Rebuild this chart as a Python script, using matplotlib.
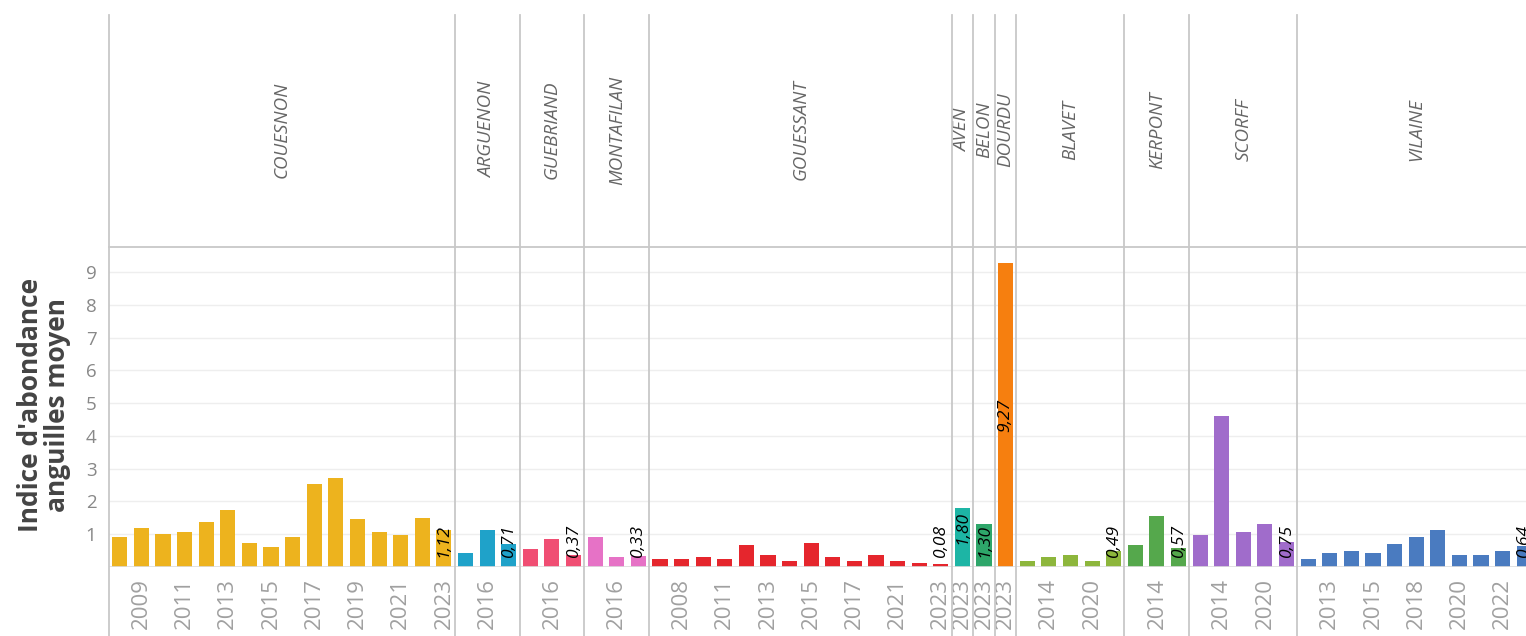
import matplotlib
matplotlib.use("Agg")
import matplotlib.pyplot as plt
from matplotlib.transforms import blended_transform_factory

plt.rcParams["font.family"] = ["Open Sans", "DejaVu Sans"]

# Data: one list per river (facet)
rivers = ["COUESNON", "ARGUENON", "GUEBRIAND", "MONTAFILAN", "GOUESSANT",
          "AVEN", "BELON", "DOURDU", "BLAVET", "KERPONT", "SCORFF", "VILAINE"]

years = {
    "COUESNON": [2008, 2009, 2010, 2011, 2012, 2013, 2014, 2015, 2016, 2017, 2018, 2019, 2020, 2021, 2022, 2023],
    "ARGUENON": [2014, 2016, 2023],
    "GUEBRIAND": [2014, 2016, 2023],
    "MONTAFILAN": [2014, 2016, 2023],
    "GOUESSANT": [2007, 2008, 2010, 2011, 2012, 2013, 2014, 2015, 2016, 2017, 2019, 2021, 2022, 2023],
    "AVEN": [2023],
    "BELON": [2023],
    "DOURDU": [2023],
    "BLAVET": [2012, 2014, 2016, 2020, 2023],
    "KERPONT": [2013, 2014, 2023],
    "SCORFF": [2013, 2014, 2016, 2020, 2023],
    "VILAINE": [2012, 2013, 2014, 2015, 2017, 2018, 2019, 2020, 2021, 2022, 2023],
}

values = {
    "COUESNON": [0.92, 1.20, 1.02, 1.07, 1.37, 1.73, 0.73, 0.61, 0.92, 2.54, 2.73, 1.45, 1.07, 0.97, 1.50, 1.12],
    "ARGUENON": [0.43, 1.14, 0.71],
    "GUEBRIAND": [0.56, 0.85, 0.37],
    "MONTAFILAN": [0.92, 0.31, 0.33],
    "GOUESSANT": [0.25, 0.25, 0.31, 0.25, 0.66, 0.38, 0.18, 0.73, 0.31, 0.18, 0.38, 0.18, 0.13, 0.08],
    "AVEN": [1.80],
    "BELON": [1.30],
    "DOURDU": [9.27],
    "BLAVET": [0.18, 0.31, 0.38, 0.18, 0.49],
    "KERPONT": [0.66, 1.55, 0.57],
    "SCORFF": [0.97, 4.60, 1.07, 1.30, 0.75],
    "VILAINE": [0.25, 0.43, 0.49, 0.43, 0.71, 0.92, 1.14, 0.38, 0.38, 0.49, 0.64],
}

colors = {
    "COUESNON": "#EDB31E", "ARGUENON": "#1FA2C9", "GUEBRIAND": "#F04E73",
    "MONTAFILAN": "#E672C6", "GOUESSANT": "#E5262D", "AVEN": "#1DB5A5",
    "BELON": "#2EA66A", "DOURDU": "#F67F0F", "BLAVET": "#8DB63C",
    "KERPONT": "#55A84C", "SCORFF": "#A06CCB", "VILAINE": "#4A7BC0",
}

W, H = 1526, 636
fig = plt.figure(figsize=(W / 100, H / 100), dpi=100)

# plot area in pixels: x 109 -> ~1535, y 247 -> 567
left, right, top, bottom = 109, 1535, 247, 567
ax = fig.add_axes([left / W, (H - bottom) / H, (right - left) / W, (bottom - top) / H])

grey_line = "#c8c8c8"
trans = blended_transform_factory(ax.transData, fig.transFigure)

tick_pos = []
tick_lab = []
start = 0
for r in rivers:
    ys = years[r]
    vs = values[r]
    xs = [start + i for i in range(len(vs))]
    ax.bar(xs, vs, width=0.7, color=colors[r], zorder=3)

    # label with the last value
    v = vs[-1]
    if v / 2 > 1.2:
        ly = v / 2
    else:
        ly = max(v - 0.6, 0.8)
    ax.text(xs[-1], ly, f"{v:.2f}".replace(".", ","), rotation=90, ha="center",
            va="center", fontsize=12.5, style="italic", color="black", zorder=4)

    # year labels every second bar (single bar panels show theirs)
    for i, yr in enumerate(ys):
        if len(ys) == 1 or i % 2 == 1:
            tick_pos.append(xs[i])
            tick_lab.append(str(yr))

    # facet separator and strip title
    ax.plot([start - 0.5, start - 0.5], [1 - 15 / H, 0], transform=trans,
            color=grey_line, lw=1.3, clip_on=False, zorder=5)
    mid = start + (len(vs) - 1) / 2
    ax.text(mid, (H - 130) / H, r, transform=trans, rotation=90, ha="center",
            va="center", fontsize=13.5, style="italic", color="#666666")
    start += len(vs)

ax.set_xlim(-0.5, start - 0.5)
ax.set_ylim(0, (bottom - top) / 32.78)

ax.set_yticks(range(1, 10))
ax.tick_params(axis="y", length=0, pad=9, labelsize=13.5, labelcolor="#888888")
ax.set_xticks(tick_pos)
ax.set_xticklabels(tick_lab, rotation=90)
ax.tick_params(axis="x", length=0, pad=8, labelsize=16, labelcolor="#a0a0a0")

ax.grid(axis="y", color="#eeeeee", lw=1, zorder=0)
for s in ["left", "right", "bottom"]:
    ax.spines[s].set_visible(False)
ax.spines["top"].set_color(grey_line)
ax.spines["top"].set_linewidth(1.3)
ax.axhline(0, color="#dddddd", lw=1.2, zorder=4)

fig.text(44 / W, (H - 405) / H, "Indice d'abondance\nanguilles moyen", rotation=90,
         ha="center", va="center", fontsize=19, fontweight="bold", color="#444444",
         linespacing=1.0)

fig.savefig("out.png", dpi=100)
